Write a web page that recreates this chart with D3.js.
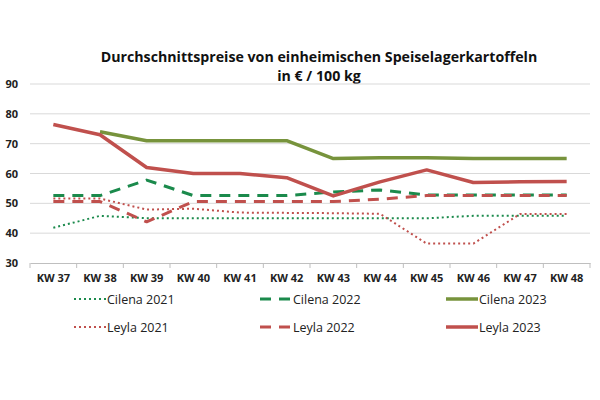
<!DOCTYPE html>
<html>
<head>
<meta charset="utf-8">
<script src="https://cdn.jsdelivr.net/npm/d3@7"></script>
<style>
  body { margin: 0; background: #fff; }
  text { font-family: "Open Sans", "Noto Sans", sans-serif; }
</style>
</head>
<body>
<svg id="chart" width="600" height="400"></svg>
<script>
// data
const weeks = ["KW 37","KW 38","KW 39","KW 40","KW 41","KW 42","KW 43","KW 44","KW 45","KW 46","KW 47","KW 48"];
const cilena2021 = [41.8, 45.8, 45, 45, 45, 45, 45, 45, 45, 45.8, 45.8, 45.8];
const cilena2022 = [52.6, 52.6, 57.8, 52.6, 52.6, 52.6, 53.8, 54.5, 52.8, 52.8, 52.8, 52.8];
const cilena2023 = [null, 74, 71, 71, 71, 71, 65, 65.3, 65.3, 65, 65, 65];
const leyla2021 = [51.6, 51.6, 47.9, 48.2, 46.9, 46.8, 46.7, 46.5, 36.5, 36.5, 46.4, 46.4];
const leyla2022 = [50.6, 50.6, 43.8, 50.6, 50.6, 50.6, 50.6, 51.4, 52.6, 52.6, 52.6, 52.6];
const leyla2023 = [76.4, 73, 62, 60, 60, 58.6, 52.5, 57.2, 61.2, 57, 57.2, 57.3];
const yTicks = [30, 40, 50, 60, 70, 80, 90];

const darkGreen = "#1b8a4c", olive = "#77933c", red = "#c0504d";

const series = [
  {name: "Cilena 2021", values: cilena2021, color: darkGreen, width: 2, dash: "2,3"},
  {name: "Cilena 2022", values: cilena2022, color: darkGreen, width: 3, dash: "11,8"},
  {name: "Cilena 2023", values: cilena2023, color: olive, width: 3.5, dash: null},
  {name: "Leyla 2021", values: leyla2021, color: red, width: 2, dash: "2,3"},
  {name: "Leyla 2022", values: leyla2022, color: red, width: 3, dash: "11,8"},
  {name: "Leyla 2023", values: leyla2023, color: red, width: 3.5, dash: null}
];

const svg = d3.select("#chart");
const plotL = 30, plotR = 590, plotT = 84, plotB = 263;

const x = d3.scaleBand().domain(weeks).range([plotL, plotR]);
const y = d3.scaleLinear().domain([30, 90]).range([plotB, plotT]);

// title
svg.append("text").attr("x", 319).attr("y", 62).attr("text-anchor", "middle")
   .attr("font-size", 14.2).attr("font-weight", "bold").attr("fill", "#111")
   .text("Durchschnittspreise von einheimischen Speiselagerkartoffeln");
svg.append("text").attr("x", 319).attr("y", 81).attr("text-anchor", "middle")
   .attr("font-size", 14.2).attr("font-weight", "bold").attr("fill", "#111")
   .text("in € / 100 kg");

// grid
svg.append("g").selectAll("line").data(yTicks.filter(d => d > 30)).join("line")
   .attr("x1", plotL).attr("x2", plotR)
   .attr("y1", d => y(d)).attr("y2", d => y(d))
   .attr("stroke", "#d9d9d9").attr("stroke-width", 1);

// y labels
svg.append("g").selectAll("text").data(yTicks).join("text")
   .attr("x", 18).attr("y", d => y(d) + 4)
   .attr("text-anchor", "end").attr("font-size", 11).attr("font-weight", "bold")
   .attr("fill", "#222").text(d => d);

// x axis
let xAxis = svg.append("g").attr("transform", `translate(0,${plotB})`)
   .call(d3.axisBottom(x).tickSize(0).tickPadding(11));
xAxis.select(".domain").attr("stroke", "#bfbfbf");
xAxis.selectAll("text").attr("font-size", 11).attr("font-weight", "bold")
   .attr("fill", "#222").attr("font-family", "'Open Sans', sans-serif");
// boundary ticks
svg.append("g").selectAll("line").data(d3.range(weeks.length + 1)).join("line")
   .attr("x1", i => plotL + i * x.bandwidth()).attr("x2", i => plotL + i * x.bandwidth())
   .attr("y1", plotB).attr("y2", plotB + 5)
   .attr("stroke", "#bfbfbf");

// lines
const line = d3.line()
  .defined(d => d != null)
  .x((d, i) => x(weeks[i]) + x.bandwidth() / 2)
  .y(d => y(d));

svg.append("g").selectAll("path").data(series).join("path")
   .attr("d", s => line(s.values))
   .attr("fill", "none")
   .attr("stroke", s => s.color)
   .attr("stroke-width", s => s.width)
   .attr("stroke-dasharray", s => s.dash)
   .attr("stroke-linejoin", "round");

// legend
const legX = [74, 260, 446], legY = [299, 327];
const leg = svg.append("g").selectAll("g").data(series).join("g")
   .attr("transform", (s, i) => `translate(${legX[i % 3]},${legY[Math.floor(i / 3)]})`);
leg.append("line").attr("x1", 0).attr("x2", 32).attr("y1", 0).attr("y2", 0)
   .attr("stroke", s => s.color).attr("stroke-width", s => s.width)
   .attr("stroke-dasharray", s => s.dash);
leg.append("text").attr("x", 33).attr("y", 4.5).attr("font-size", 12.5)
   .attr("fill", "#222").text(s => s.name);
</script>
</body>
</html>
